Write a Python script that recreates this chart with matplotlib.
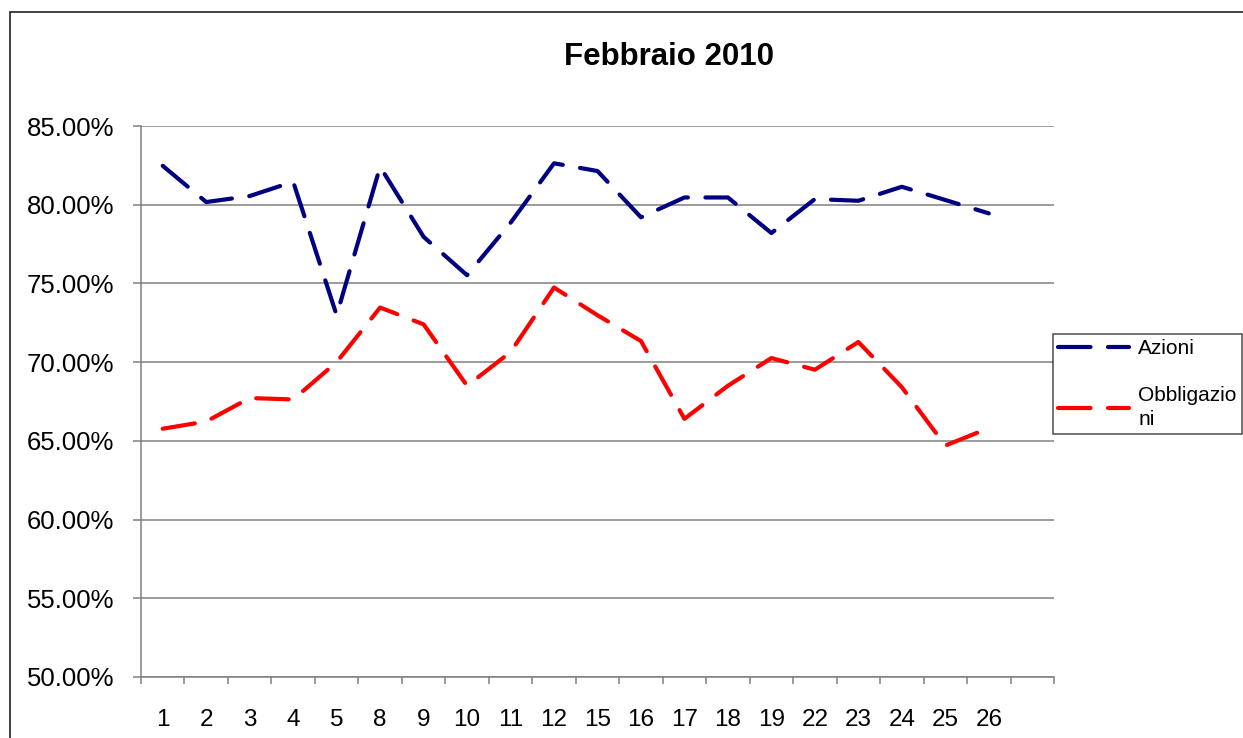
import numpy as np
import matplotlib
matplotlib.use("Agg")
import matplotlib.pyplot as plt
from matplotlib.ticker import PercentFormatter, FixedLocator, NullFormatter
from matplotlib.patches import Rectangle

plt.rcParams["font.family"] = ["Liberation Sans", "DejaVu Sans"]

days = ["1", "2", "3", "4", "5", "8", "9", "10", "11", "12",
        "15", "16", "17", "18", "19", "22", "23", "24", "25", "26"]
azioni = [82.47, 80.17, 80.55, 81.46, 72.98, 82.41, 77.96, 75.52, 78.85, 82.63,
          82.14, 79.20, 80.46, 80.46, 78.20, 80.36, 80.25, 81.14, 80.30, 79.45]
obbligazioni = [65.77, 66.23, 67.72, 67.63, 70.00, 73.47, 72.40, 68.50, 70.64, 74.74,
                72.98, 71.34, 66.40, 68.50, 70.26, 69.52, 71.28, 68.41, 64.70, 65.81]
n_slots = 21  # Excel axis leaves one empty category at the end

W, H = 1243, 738
fig = plt.figure(figsize=(W / 100, H / 100), dpi=100)
ax = fig.add_axes([141 / W, 1 - 677 / H, 913 / W, 551 / H])

x = np.arange(len(days))
dash = (7.8, 4.2)
ax.plot(x, np.array(azioni) / 100, color="#000080", lw=3, dashes=dash,
        solid_capstyle="round", dash_capstyle="round", label="Azioni")
ax.plot(x, np.array(obbligazioni) / 100, color="#FF0000", lw=3, dashes=dash,
        solid_capstyle="round", dash_capstyle="round", label="Obbligazio\nni")

ax.set_xlim(-0.5, n_slots - 0.5)
ax.set_ylim(0.50, 0.85)
ax.set_yticks(np.arange(0.50, 0.851, 0.05))
ax.yaxis.set_major_formatter(PercentFormatter(xmax=1, decimals=2))
ax.yaxis.grid(True, color="#808080", lw=1.1)
ax.set_axisbelow(True)

# category boundaries get the tick marks, labels sit in the middle
ax.xaxis.set_major_locator(FixedLocator(np.arange(-0.5, n_slots, 1)))
ax.xaxis.set_major_formatter(NullFormatter())
ax.xaxis.set_minor_locator(FixedLocator(x))
ax.set_xticklabels(days, minor=True)
ax.tick_params(axis="x", which="major", length=5, width=1.1, color="#808080")
ax.tick_params(axis="x", which="minor", length=0, pad=23, labelsize=17.5)
ax.tick_params(axis="y", length=6, width=1.1, color="#808080", pad=13, labelsize=18.5)

for s in ("top", "right"):
    ax.spines[s].set_visible(False)
for s in ("left", "bottom"):
    ax.spines[s].set_color("#808080")
    ax.spines[s].set_linewidth(1.1)

fig.text(669.5 / W, 1 - 57 / H, "Febbraio 2010", ha="center", va="center",
         fontsize=22.5, fontweight="bold")

# outer chart-area frame (cut by the image edges)
fig.patches.append(Rectangle((10 / W, -0.05), 1.1, 1 - 12 / H + 0.05,
                             transform=fig.transFigure, fill=False,
                             edgecolor="#202020", lw=1.2))

leg = fig.legend(loc="upper left", bbox_to_anchor=(1053 / W, 1 - 334 / H),
                 fontsize=15, frameon=True, fancybox=False, edgecolor="#202020",
                 handlelength=3.4, handletextpad=0.45, borderpad=0.25,
                 labelspacing=1.35, borderaxespad=0)
leg.get_frame().set_linewidth(1.1)
for t in leg.get_texts():
    t.set_linespacing(1.3)

fig.savefig("out.png", dpi=100)
